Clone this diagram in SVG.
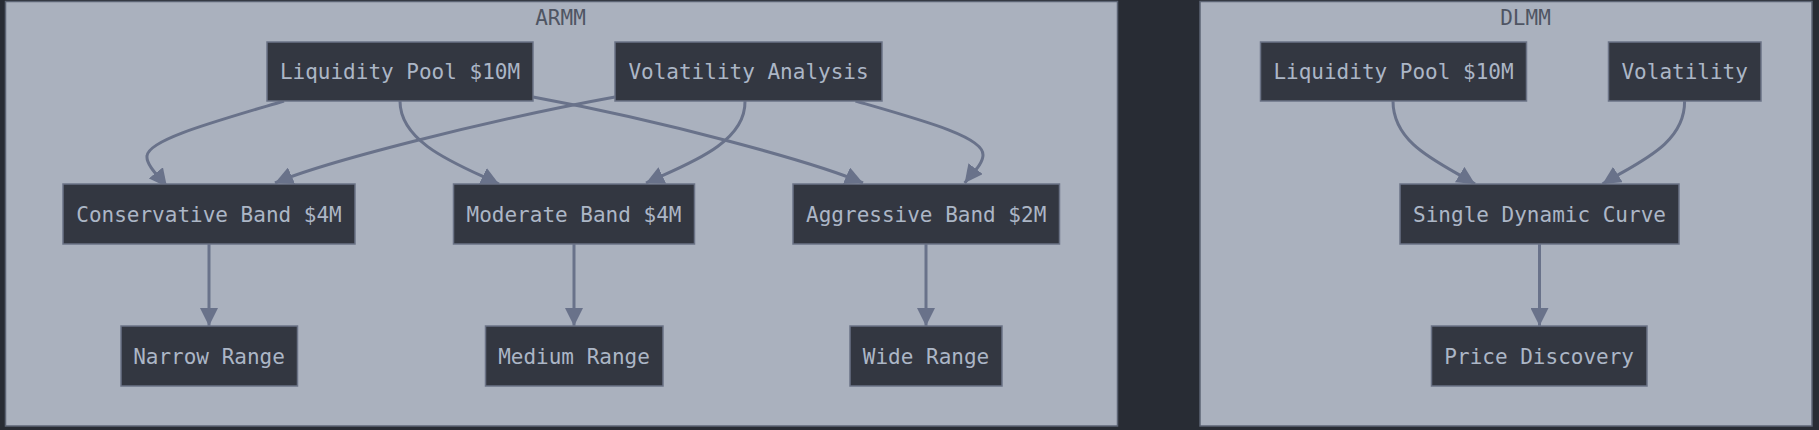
<svg xmlns="http://www.w3.org/2000/svg" width="1819" height="430" viewBox="0 0 1819 430">
<style>
.cl{fill:#aab1be;stroke:#5c6474;stroke-width:1.5}
.cll{font-family:"DejaVu Sans Mono","Liberation Mono",monospace;font-size:21px;fill:#4f5563;text-anchor:middle}
.nd rect{fill:#333741;stroke:#6b7386;stroke-width:1.5}
.nd text{font-family:"DejaVu Sans Mono","Liberation Mono",monospace;font-size:21px;fill:#acb6c6;text-anchor:middle}
.ed path{fill:none;stroke:#69728a;stroke-width:3;marker-end:url(#ah)}
</style>
<defs>
<marker id="ah" markerUnits="userSpaceOnUse" markerWidth="18" markerHeight="18" viewBox="0 0 10 10" refX="10" refY="5" orient="auto">
<path d="M0,0 L10,5 L0,10 z" fill="#69728a"/>
</marker>
</defs>
<rect width="1819" height="430" fill="#282c34"/>
<g id="cluster-armm">
<rect class="cl" x="5.5" y="1.5" width="1112" height="424.5"/>
<text class="cll" x="560.5" y="25">ARMM</text>
</g>
<g id="cluster-dlmm">
<rect class="cl" x="1200" y="1.5" width="612" height="424.5"/>
<text class="cll" x="1525.5" y="25">DLMM</text>
</g>
<g id="connectors" class="ed">
<path d="M284,101 C210,123 148,140 147,156 C146,165 159.6,177.6 167,187"/>
<path d="M400,101 C400,145 463,166.4 499,184"/>
<path d="M533,97 C665,121 817,163 863,183"/>
<path d="M615,97 C483,121 321,163 275,183"/>
<path d="M745,101 C746,145 682,166 646,183"/>
<path d="M855.5,101 C925,121 984,137 983,155 C983,164 972,173.4 964.7,183"/>
<path d="M209,244 L209,326"/>
<path d="M574,244 L574,326"/>
<path d="M926,244 L926,326"/>
<path d="M1393,101 C1393,145 1441,163 1475,184"/>
<path d="M1684.6,101 C1685,145 1636.5,162.8 1602.5,184"/>
<path d="M1539.5,244 L1539.5,326"/>
</g>
<g id="armm-liquidity" class="nd"><rect x="267" y="42" width="266" height="59"/><text x="400" y="79">Liquidity Pool $10M</text></g>
<g id="armm-volatility" class="nd"><rect x="615" y="42" width="267" height="59"/><text x="748.5" y="79">Volatility Analysis</text></g>
<g id="conservative" class="nd"><rect x="63" y="184" width="292" height="60"/><text x="209" y="221.5">Conservative Band $4M</text></g>
<g id="moderate" class="nd"><rect x="453.5" y="184" width="241" height="60"/><text x="574" y="221.5">Moderate Band $4M</text></g>
<g id="aggressive" class="nd"><rect x="793" y="184" width="266.5" height="60"/><text x="926.2" y="221.5">Aggressive Band $2M</text></g>
<g id="narrow" class="nd"><rect x="121" y="326" width="176.5" height="60"/><text x="209" y="363.5">Narrow Range</text></g>
<g id="medium" class="nd"><rect x="485.5" y="326" width="177.5" height="60"/><text x="574" y="363.5">Medium Range</text></g>
<g id="wide" class="nd"><rect x="850" y="326" width="152" height="60"/><text x="926" y="363.5">Wide Range</text></g>
<g id="dlmm-liquidity" class="nd"><rect x="1260.5" y="42" width="266" height="59"/><text x="1393.5" y="79">Liquidity Pool $10M</text></g>
<g id="dlmm-volatility" class="nd"><rect x="1608.5" y="42" width="152.5" height="59"/><text x="1684.7" y="79">Volatility</text></g>
<g id="single-curve" class="nd"><rect x="1400" y="184" width="279" height="60"/><text x="1539.5" y="221.5">Single Dynamic Curve</text></g>
<g id="price-discovery" class="nd"><rect x="1431.5" y="326" width="215.5" height="60"/><text x="1539.2" y="363.5">Price Discovery</text></g>
</svg>
